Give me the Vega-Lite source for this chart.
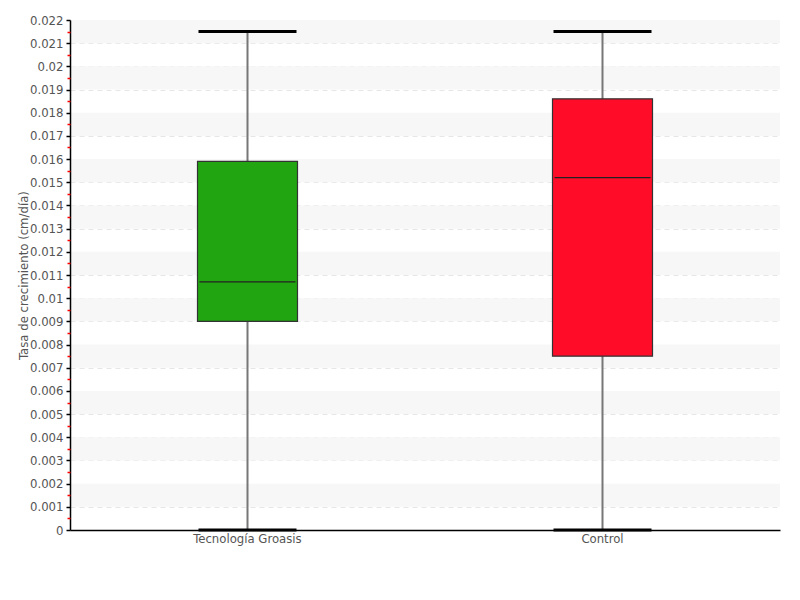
{
  "$schema": "https://vega.github.io/schema/vega-lite/v6.json",
  "width": 710,
  "height": 510,
  "autosize": "none",
  "padding": {"left": 70, "top": 20, "right": 20, "bottom": 70},
  "background": "white",
  "config": {
    "view": {"stroke": null},
    "font": "DejaVu Sans Condensed",
    "axis": {"labelFont": "DejaVu Sans Condensed", "titleFont": "DejaVu Sans Condensed"}
  },
  "datasets": {
    "boxes": [
      {"grupo": "Tecnología Groasis", "min": 0, "q1": 0.009, "median": 0.0107, "q3": 0.0159, "max": 0.0215},
      {"grupo": "Control", "min": 0, "q1": 0.0075, "median": 0.0152, "q3": 0.0186, "max": 0.0215}
    ],
    "bands": [
      {"lo": 0.001, "hi": 0.002}, {"lo": 0.003, "hi": 0.004}, {"lo": 0.005, "hi": 0.006},
      {"lo": 0.007, "hi": 0.008}, {"lo": 0.009, "hi": 0.010}, {"lo": 0.011, "hi": 0.012},
      {"lo": 0.013, "hi": 0.014}, {"lo": 0.015, "hi": 0.016}, {"lo": 0.017, "hi": 0.018},
      {"lo": 0.019, "hi": 0.020}, {"lo": 0.021, "hi": 0.022}
    ]
  },
  "resolve": {"axis": {"y": "independent"}},
  "layer": [
    {
      "data": {"name": "bands"},
      "mark": {"type": "rect", "color": "#f7f7f7"},
      "encoding": {
        "y": {"field": "lo", "type": "quantitative", "scale": {"domain": [0, 0.022], "nice": false, "zero": true},
          "axis": {
            "orient": "left", "zindex": 0,
            "values": [0.001, 0.002, 0.003, 0.004, 0.005, 0.006, 0.007, 0.008, 0.009, 0.01, 0.011, 0.012, 0.013, 0.014, 0.015, 0.016, 0.017, 0.018, 0.019, 0.02, 0.021, 0.022],
            "labels": false, "ticks": false, "domain": false, "title": null,
            "grid": true, "gridColor": "#e6e6e6", "gridDash": [5, 4], "gridWidth": 1
          }},
        "y2": {"field": "hi"}
      }
    },
    {
      "data": {"name": "bands"},
      "mark": {"type": "rule", "opacity": 0},
      "encoding": {
        "y": {"field": "lo", "type": "quantitative",
          "axis": {
            "orient": "left", "zindex": 1,
            "values": [0, 0.001, 0.002, 0.003, 0.004, 0.005, 0.006, 0.007, 0.008, 0.009, 0.01, 0.011, 0.012, 0.013, 0.014, 0.015, 0.016, 0.017, 0.018, 0.019, 0.02, 0.021, 0.022],
            "format": "~g",
            "title": "Tasa de crecimiento (cm/día)",
            "titleFontSize": 13, "titleFontWeight": "normal", "titleColor": "#555", "titlePadding": -1,
            "labelFontSize": 13, "labelColor": "#555", "labelPadding": 3,
            "domainColor": "#000", "domainWidth": 1.5,
            "tickColor": "#000", "tickSize": 4, "tickWidth": 1.5,
            "grid": false
          }}
      }
    },
    {
      "data": {"name": "bands"},
      "mark": {"type": "rule", "opacity": 0},
      "encoding": {
        "y": {"field": "hi", "type": "quantitative",
          "axis": {
            "orient": "left", "zindex": 1,
            "values": [0.0005, 0.0015, 0.0025, 0.0035, 0.0045, 0.0055, 0.0065, 0.0075, 0.0085, 0.0095, 0.0105, 0.0115, 0.0125, 0.0135, 0.0145, 0.0155, 0.0165, 0.0175, 0.0185, 0.0195, 0.0205, 0.0215],
            "labels": false, "title": null, "domain": false, "grid": false,
            "tickColor": "#ff0000", "tickSize": 3, "tickWidth": 1.5
          }}
      }
    },
    {
      "data": {"name": "boxes"},
      "layer": [
        {
          "mark": {"type": "rule", "color": "#777", "strokeWidth": 2},
          "encoding": {
            "x": {"field": "grupo", "type": "nominal", "sort": ["Tecnología Groasis", "Control"],
              "scale": {"paddingInner": 0, "paddingOuter": 0},
              "axis": {"title": null, "labelAngle": 0, "labelFontSize": 13, "labelColor": "#555", "labelPadding": 2,
                "ticks": false, "domainColor": "#000", "domainWidth": 1.5, "grid": false, "zindex": 1}},
            "y": {"field": "min", "type": "quantitative", "axis": null},
            "y2": {"field": "max"}
          }
        },
        {
          "mark": {"type": "bar", "size": 100, "stroke": "#333", "strokeWidth": 1.2},
          "encoding": {
            "x": {"field": "grupo", "type": "nominal", "sort": ["Tecnología Groasis", "Control"]},
            "y": {"field": "q1", "type": "quantitative", "axis": null},
            "y2": {"field": "q3"},
            "color": {"field": "grupo", "type": "nominal", "legend": null,
              "scale": {"domain": ["Tecnología Groasis", "Control"], "range": ["#21a510", "#ff0d28"]}}
          }
        },
        {
          "mark": {"type": "tick", "color": "#222", "size": 96, "thickness": 1.2, "opacity": 1},
          "encoding": {
            "x": {"field": "grupo", "type": "nominal", "sort": ["Tecnología Groasis", "Control"]},
            "y": {"field": "median", "type": "quantitative", "axis": null}
          }
        },
        {
          "mark": {"type": "tick", "color": "#000", "size": 98, "thickness": 3, "opacity": 1},
          "encoding": {
            "x": {"field": "grupo", "type": "nominal", "sort": ["Tecnología Groasis", "Control"]},
            "y": {"field": "max", "type": "quantitative", "axis": null}
          }
        },
        {
          "mark": {"type": "tick", "color": "#000", "size": 98, "thickness": 3, "opacity": 1},
          "encoding": {
            "x": {"field": "grupo", "type": "nominal", "sort": ["Tecnología Groasis", "Control"]},
            "y": {"field": "min", "type": "quantitative", "axis": null}
          }
        }
      ]
    }
  ]
}
